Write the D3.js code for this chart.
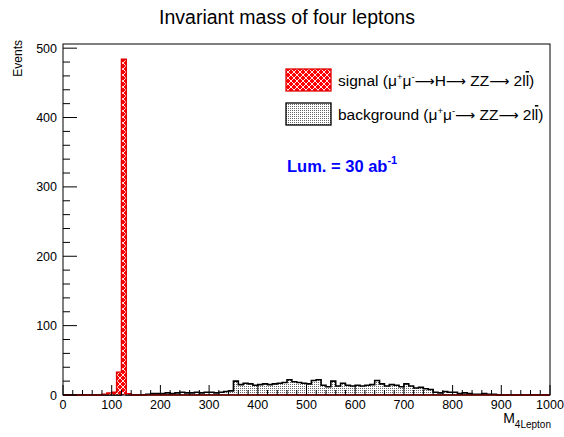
<!DOCTYPE html>
<html>
<head>
<meta charset="utf-8">
<script src="https://cdn.jsdelivr.net/npm/d3@7"></script>
<style>
  body { margin: 0; background: #fff; }
  text { font-family: "Liberation Sans", Arial, sans-serif; }
</style>
</head>
<body>
<svg id="chart" width="564" height="437"></svg>
<script>
// histogram: 100 bins of 10 GeV between 0 and 1000
var binEdges = d3.range(0, 1001, 10);
var signal = [0,0,0,0,0,0,0,0,1,3, 4,33,484,2,0,0,0,0,0,0,
  0,0,0,0,0,0,0,0,0,0, 0,0,0,0,0,0,0,0,0,0,
  0,0,0,0,0,0,0,0,0,0, 0,0,0,0,0,0,0,0,0,0,
  0,0,0,0,0,0,0,0,0,0, 0,0,0,0,0,0,0,0,0,0,
  0,0,0,0,0,0,0,0,0,0, 0,0,0,0,0,0,0,0,0,0];
var background = [0,0,0,0,0,0,0,0,0,0, 0,0,1,0,0,0,0,1,2,2,
  2,3,2,3,4,3,3,4,3,4, 4,3,4,5,6,20,15,17,16,14,
  15,16,15,16,17,18,22,19,18,17, 16,21,22,14,12,20,13,17,14,13,
  14,13,14,15,21,16,13,15,14,12, 16,13,10,11,9,8,4,3,5,4,
  4,2,3,2,1,1,2,1,1,0, 0,0,0,0,0,0,0,0,0,0];
var xTicks = [0,100,200,300,400,500,600,700,800,900,1000];
var yTicks = [0,100,200,300,400,500];

var svg = d3.select("#chart");
var x = d3.scaleLinear().domain([0, 1000]).range([63, 550]);
var y = d3.scaleLinear().domain([0, 506]).range([395, 44]);

// fill patterns
var defs = svg.append("defs");
var ps = defs.append("pattern").attr("id", "sigPat").attr("patternUnits", "userSpaceOnUse")
  .attr("width", 6).attr("height", 6);
ps.append("rect").attr("width", 6).attr("height", 6).attr("fill", "#ff0000");
ps.append("path").attr("d", "M0,0L3,3L6,0M0,6L3,3L6,6").attr("stroke", "#fff").attr("stroke-width", 0.9).attr("fill", "none");
var pb = defs.append("pattern").attr("id", "bkgPat").attr("patternUnits", "userSpaceOnUse")
  .attr("width", 2).attr("height", 2);
pb.append("rect").attr("width", 2).attr("height", 2).attr("fill", "#fff");
pb.append("rect").attr("width", 1).attr("height", 1).attr("fill", "#666");

function stepPath(vals) {
  var p = "M" + x(0) + "," + y(0);
  vals.forEach(function (v, i) {
    p += "L" + x(binEdges[i]) + "," + y(v) + "L" + x(binEdges[i + 1]) + "," + y(v);
  });
  return p + "L" + x(1000) + "," + y(0);
}

svg.append("path").attr("d", stepPath(background)).attr("fill", "url(#bkgPat)")
  .attr("stroke", "#000").attr("stroke-width", 1.6);
svg.append("path").attr("d", stepPath(signal)).attr("fill", "url(#sigPat)")
  .attr("stroke", "#e00000").attr("stroke-width", 1.4);

// frame
svg.append("rect").attr("x", x(0)).attr("y", y(506)).attr("width", x(1000) - x(0))
  .attr("height", y(0) - y(506)).attr("fill", "none").attr("stroke", "#000");

// x ticks (inside)
d3.range(0, 1001, 20).forEach(function (v) {
  var major = v % 100 === 0;
  svg.append("line").attr("x1", x(v)).attr("x2", x(v)).attr("y1", y(0))
    .attr("y2", y(0) - (major ? 10 : 5)).attr("stroke", "#000");
});
xTicks.forEach(function (v) {
  svg.append("text").attr("x", x(v)).attr("y", 409).attr("text-anchor", "middle")
    .attr("font-size", 12.5).text(v);
});
// y ticks
d3.range(0, 501, 20).forEach(function (v) {
  var major = v % 100 === 0;
  svg.append("line").attr("x1", x(0)).attr("x2", x(0) + (major ? 14 : 7))
    .attr("y1", y(v)).attr("y2", y(v)).attr("stroke", "#000");
});
yTicks.forEach(function (v) {
  svg.append("text").attr("x", 57).attr("y", y(v) + 4.5).attr("text-anchor", "end")
    .attr("font-size", 12.5).text(v);
});

// titles
svg.append("text").attr("x", 287).attr("y", 24).attr("text-anchor", "middle")
  .attr("font-size", 19.5).text("Invariant mass of four leptons");
svg.append("text").attr("transform", "translate(22,40) rotate(-90)").attr("text-anchor", "end")
  .attr("font-size", 12).text("Events");
var xt = svg.append("text").attr("x", 551).attr("y", 423).attr("text-anchor", "end").attr("font-size", 14);
xt.append("tspan").text("M");
xt.append("tspan").attr("dy", 5).attr("font-size", 10).text("4Lepton");

// legend
function legendText(yy, parts) {
  var t = svg.append("text").attr("x", 338).attr("y", yy).attr("font-size", 15.5);
  parts.forEach(function (p) {
    var s = t.append("tspan").text(p.t);
    if (p.sup) s.attr("font-size", 9.5).attr("dy", -6);
    if (p.down) s.attr("dy", 6);
    if (p.bar) s.attr("text-decoration", "overline");
    if (p.arrow) s.attr("font-family", "DejaVu Sans").attr("font-size", 14);
  });
}
var arrow = "\u27f6";
svg.append("rect").attr("x", 286).attr("y", 69).attr("width", 45).attr("height", 22)
  .attr("fill", "url(#sigPat)").attr("stroke", "#e00000").attr("stroke-width", 1.3);
legendText(86, [{t: "signal (\u03bc"}, {t: "+", sup: 1}, {t: "\u03bc", down: 1}, {t: "-", sup: 1},
  {t: arrow, arrow: 1, down: 1}, {t: "H"}, {t: arrow, arrow: 1}, {t: " ZZ"}, {t: arrow, arrow: 1},
  {t: " 2l"}, {t: "l", bar: 1}, {t: ")"}]);
svg.append("rect").attr("x", 286).attr("y", 103).attr("width", 45).attr("height", 22)
  .attr("fill", "url(#bkgPat)").attr("stroke", "#000").attr("stroke-width", 1.3);
legendText(120, [{t: "background (\u03bc"}, {t: "+", sup: 1}, {t: "\u03bc", down: 1}, {t: "-", sup: 1},
  {t: arrow, arrow: 1, down: 1}, {t: " ZZ"}, {t: arrow, arrow: 1},
  {t: " 2l"}, {t: "l", bar: 1}, {t: ")"}]);

var lum = svg.append("text").attr("x", 287).attr("y", 172).attr("font-size", 16.5)
  .attr("font-weight", "bold").attr("fill", "#0000ff");
lum.append("tspan").text("Lum. = 30 ab");
lum.append("tspan").attr("dy", -8).attr("font-size", 11).text("-1");
</script>
</body>
</html>
